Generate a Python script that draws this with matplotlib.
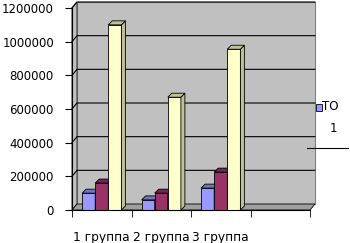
import numpy as np
import matplotlib
matplotlib.use("Agg")
import matplotlib.pyplot as plt
from matplotlib.patches import Polygon, Rectangle
from matplotlib.lines import Line2D

# ---------- Dados ----------
categorias = ["1 группа", "2 группа", "3 группа", ""]
serie_azul = [100000, 60000, 130000]
serie_vermelha = [160000, 100000, 225000]
serie_amarela = [1100000, 670000, 955000]
ticks_y = [0, 200000, 400000, 600000, 800000, 1000000, 1200000]
legenda = "ТО\n1"

cores = ["#9999ff", "#993366", "#ffffcc"]
cores_lado = ["#7373c0", "#732650", "#c0c09a"]

# ---------- Figura ----------
W, H = 350, 243
fig = plt.figure(figsize=(W / 100, H / 100), dpi=100)
plt.rcParams['font.family'] = ['DejaVu Sans']

ax_l, ax_r, ax_b, ax_t = 72, 310, 210, 8
ax = fig.add_axes([ax_l / W, 1 - ax_b / H, (ax_r - ax_l) / W, (ax_b - ax_t) / H])
ax.set_xlim(-0.5, 3.5)
ax.set_ylim(0, 1200000)
ax.set_facecolor("none")

# px -> unidades de dados
px_x = 4.0 / (ax_r - ax_l)
px_y = 1200000 / (ax_b - ax_t)

def ofs(dxp, dyp):
    return dxp * px_x, dyp * px_y

x0, x1 = -0.5, 3.5
top = 1200000

# parede do fundo (efeito 3D)
wdx, wdy = ofs(5, 6)
ax.add_patch(Polygon([(x0 + wdx, wdy), (x1 + wdx, wdy), (x1 + wdx, top + wdy), (x0 + wdx, top + wdy)],
                     closed=True, fc="#c0c0c0", ec="#808080", lw=0.8, clip_on=False, zorder=0))
# parede lateral
ax.add_patch(Polygon([(x0, 0), (x0 + wdx, wdy), (x0 + wdx, top + wdy), (x0, top)],
                     closed=True, fc="#c0c0c0", ec="#404040", lw=0.8, clip_on=False, zorder=0))
# chão
ax.add_patch(Polygon([(x0, 0), (x1, 0), (x1 + wdx, wdy), (x0 + wdx, wdy)],
                     closed=True, fc="#a0a0a0", ec="black", lw=0.6, clip_on=False, zorder=0.5))
# grade
for v in ticks_y[1:]:
    ax.plot([x0, x0 + wdx, x1 + wdx], [v, v + wdy, v + wdy], color="black", lw=0.8,
            clip_on=False, zorder=0.6)

# ---------- Barras ----------
largura = 0.22
bdx, bdy = ofs(4, 4)
xs = np.arange(len(serie_azul))
for i, serie in enumerate([serie_azul, serie_vermelha, serie_amarela]):
    pos = xs + (i - 1) * largura
    ax.bar(pos, serie, width=largura, color=cores[i], edgecolor="black", lw=0.6, zorder=2)
    for p, h in zip(pos, serie):
        l, r = p - largura / 2, p + largura / 2
        ax.add_patch(Polygon([(r, 0), (r + bdx, bdy), (r + bdx, h + bdy), (r, h)],
                             closed=True, fc=cores_lado[i], ec="black", lw=0.6, zorder=2))
        ax.add_patch(Polygon([(l, h), (r, h), (r + bdx, h + bdy), (l + bdx, h + bdy)],
                             closed=True, fc=cores_lado[i], ec="black", lw=0.6, zorder=2))

# ---------- Eixos ----------
for s in ["top", "right"]:
    ax.spines[s].set_visible(False)
ax.spines["left"].set_linewidth(0.8)
ax.spines["bottom"].set_linewidth(0.8)
ax.set_yticks(ticks_y)
ax.set_yticklabels([str(v) for v in ticks_y])
ax.set_xticks(range(len(categorias)))
ax.set_xticklabels(categorias)
ax.set_xticks(np.arange(-0.5, 4.0, 1.0), minor=True)
ax.tick_params(axis="x", which="major", length=0, pad=15, labelsize=8.8)
ax.tick_params(axis="x", which="minor", length=5, direction="out")
ax.tick_params(axis="y", length=5, pad=8, labelsize=8.5)

# ---------- Legenda ----------
fig.patches.append(Rectangle((316 / W, 1 - 111 / H), 6 / W, 7 / H, transform=fig.transFigure,
                             fc=cores[0], ec="black", lw=0.6))
fig.text(322 / W, 1 - 107 / H, legenda.split("\n")[0], fontsize=8.5, va="center")
fig.text(330 / W, 1 - 128 / H, legenda.split("\n")[1], fontsize=8.5, va="center")
fig.lines.append(Line2D([307 / W, 348 / W], [1 - 148 / H, 1 - 148 / H],
                        transform=fig.transFigure, color="black", lw=0.8))

fig.savefig("out.png", dpi=100)
